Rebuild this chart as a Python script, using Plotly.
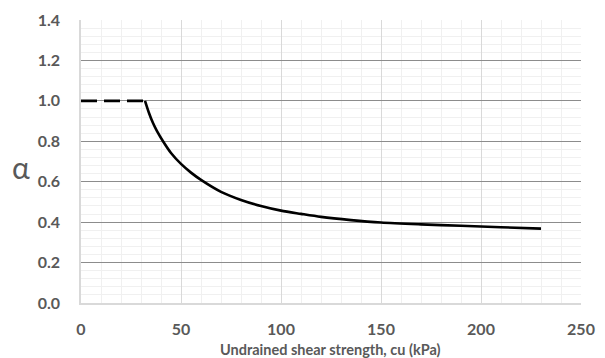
import plotly.graph_objects as go

# Data
dash_cu = [0, 32]
dash_alpha = [1.0, 1.0]

curve_cu = [32, 34, 36, 38, 41, 45, 50, 55, 60, 70, 80, 90, 100, 110, 120, 135, 150, 170, 190, 210, 230]
curve_alpha = [1.0, 0.94, 0.89, 0.85, 0.80, 0.742, 0.688, 0.645, 0.609, 0.55, 0.51, 0.48, 0.457,
               0.441, 0.426, 0.41, 0.398, 0.389, 0.382, 0.375, 0.368]

x_title = "Undrained shear strength, cu (kPa)"
y_title = "α"

gray = "#595959"
font_fam = "Lato, 'Open Sans', sans-serif"

fig = go.Figure()
fig.add_trace(go.Scatter(x=dash_cu, y=dash_alpha, mode="lines",
                         line=dict(color="black", width=2.6, dash="16px,7px"),
                         showlegend=False, hoverinfo="skip"))
fig.add_trace(go.Scatter(x=curve_cu, y=curve_alpha, mode="lines",
                         line=dict(color="black", width=2.6, shape="spline", smoothing=0.8),
                         showlegend=False, hoverinfo="skip"))

plot_h = 358 - 20 - 55

fig.update_layout(
    width=605, height=358,
    margin=dict(l=81, r=24, t=20, b=55, autoexpand=False),
    paper_bgcolor="white", plot_bgcolor="white",
    font=dict(family=font_fam, color=gray),
    xaxis=dict(
        range=[0, 250], dtick=50, tick0=0, automargin=False,
        showgrid=True, gridcolor="#d9d9d9", gridwidth=1,
        minor=dict(dtick=10, showgrid=True, gridcolor="#f0f0f0", gridwidth=1),
        showline=True, linecolor="#d9d9d9", linewidth=1.5,
        zeroline=False, ticks="", ticklen=0,
        tickfont=dict(size=16, color=gray, family=font_fam, weight="bold"),
        ticklabelstandoff=11,
        fixedrange=True,
    ),
    yaxis=dict(
        range=[0, 1.4], dtick=0.2, tick0=0, tickformat=".1f", automargin=False,
        showgrid=True, gridcolor="#8c8c8c", gridwidth=1,
        minor=dict(dtick=0.04, showgrid=True, gridcolor="#f0f0f0", gridwidth=1),
        showline=True, linecolor="#d9d9d9", linewidth=1.5,
        zeroline=False, ticks="", ticklen=0,
        tickfont=dict(size=16, color=gray, family=font_fam, weight="bold"),
        ticklabelstandoff=16,
        fixedrange=True,
    ),
    annotations=[
        dict(text=y_title, x=-0.12, y=(303 - 167) / plot_h, xref="paper", yref="paper",
             xanchor="center", yanchor="middle",
             showarrow=False, font=dict(size=30, color=gray, family=font_fam)),
        dict(text=x_title, x=(330 - 81) / 500, y=-(349 - 303) / plot_h, xref="paper", yref="paper",
             xanchor="center", yanchor="middle",
             showarrow=False, font=dict(size=14.5, color=gray, family=font_fam, weight="bold")),
    ],
)

fig.write_html("out.html")
